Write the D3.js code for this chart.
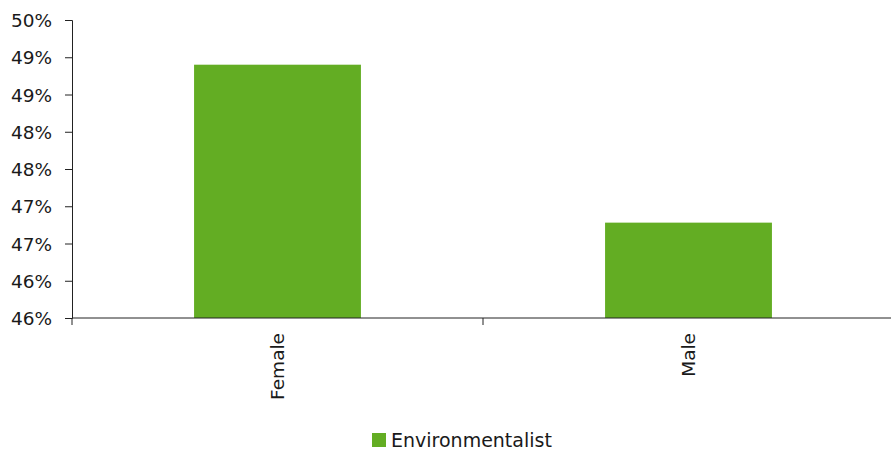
<!DOCTYPE html>
<html><head><meta charset="utf-8">
<script src="https://cdn.jsdelivr.net/npm/d3@7"></script>
<style>body{margin:0;background:#fff}svg{display:block}text{font-family:"DejaVu Sans",sans-serif;fill:#1a1a1a}</style>
</head><body><svg id="c" width="891" height="452"></svg>
<script>
const categories = ["Female", "Male"];
const values = [48.9, 46.78];
const seriesName = "Environmentalist";
const tickValues = [45.5, 46, 46.5, 47, 47.5, 48, 48.5, 49, 49.5];
const tickLabels = ["46%", "46%", "47%", "47%", "48%", "48%", "49%", "49%", "50%"];

const svg = d3.select("#c");
const color = "#63ad23";
const y = d3.scaleLinear().domain([45.5, 49.5]).range([318, 20]);
const x = d3.scaleBand().domain(categories).range([72, 894]).padding(0);
const barW = x.bandwidth() * 0.406;

svg.selectAll("rect.bar").data(values).join("rect")
  .attr("class", "bar")
  .attr("x", (d, i) => x(categories[i]) + x.bandwidth() / 2 - barW / 2)
  .attr("width", barW)
  .attr("y", d => y(d))
  .attr("height", d => y(45.5) - y(d))
  .attr("fill", color);

// y axis
const yAxis = d3.axisLeft(y).tickValues(tickValues)
  .tickFormat((d, i) => tickLabels[i]).tickSizeOuter(0).tickSize(7).tickPadding(13);
const gy = svg.append("g").attr("transform", "translate(72,0)").call(yAxis);
gy.select(".domain").attr("stroke", "#222");
gy.selectAll(".tick line").attr("stroke", "#222");
gy.selectAll(".tick text").style("font-size", "18.5px").attr("dy", "0.36em");

// x axis line and boundary ticks
const gx = svg.append("g");
gx.append("line").attr("x1", 72).attr("x2", 894).attr("y1", y(45.5)).attr("y2", y(45.5)).attr("stroke", "#222");
const bounds = categories.map(c => x(c)).concat([x(categories[categories.length - 1]) + x.bandwidth()]);
gx.selectAll("line.tk").data(bounds).join("line").attr("class", "tk")
  .attr("x1", d => d).attr("x2", d => d).attr("y1", y(45.5)).attr("y2", y(45.5) + 7).attr("stroke", "#222");
gx.selectAll("text.cat").data(categories).join("text").attr("class", "cat")
  .attr("transform", d => `translate(${x(d) + x.bandwidth() / 2},${y(45.5) + 15}) rotate(-90)`)
  .attr("text-anchor", "end")
  .attr("dy", "0.36em")
  .style("font-size", "18.5px")
  .text(d => d);

// legend
const lg = svg.append("g").attr("transform", "translate(372,433)");
lg.append("rect").attr("width", 14).attr("height", 14).attr("fill", color);
lg.append("text").attr("x", 19).attr("y", 14).style("font-size", "19px").text(seriesName);
</script></body></html>
